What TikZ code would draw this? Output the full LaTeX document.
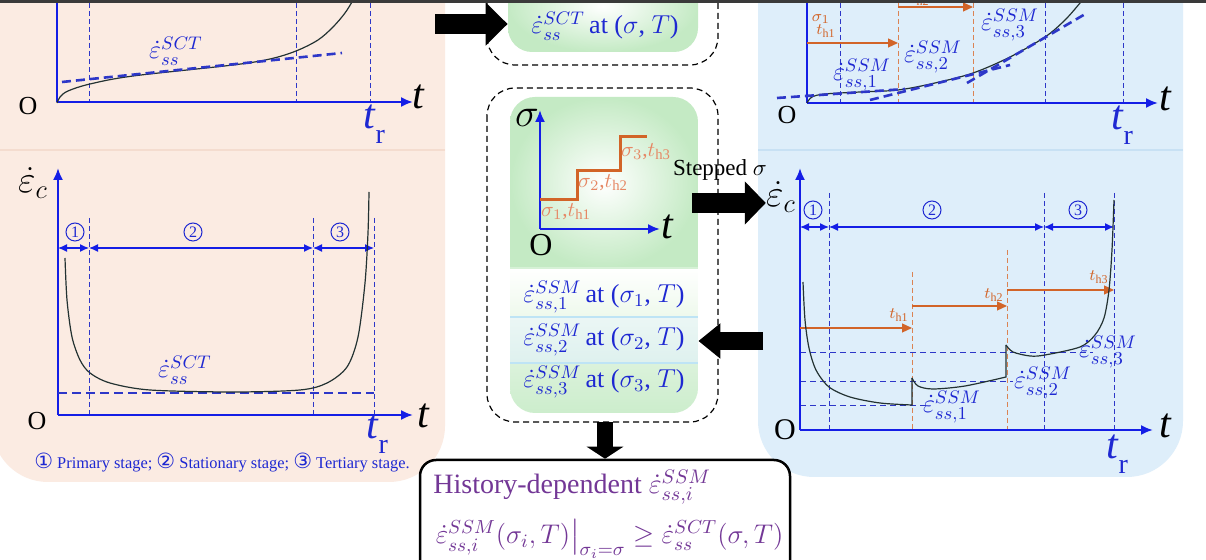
\RequirePackage{fix-cm}
\documentclass[tikz,border=0pt]{standalone}
\usepackage{amsmath}
\usepackage{fontspec}
\setmainfont{Liberation Serif}
\newfontfamily\djv{DejaVu Sans}
\usetikzlibrary{arrows.meta}
\definecolor{peach}{RGB}{251,235,226}
\definecolor{peachsep}{RGB}{244,220,207}
\definecolor{skyb}{RGB}{222,238,250}
\definecolor{skysep}{RGB}{200,225,244}
\definecolor{axb}{RGB}{20,30,230}
\definecolor{lblb}{RGB}{30,40,210}
\definecolor{dashb}{RGB}{45,55,200}
\definecolor{orng}{RGB}{210,100,40}
\definecolor{salm}{RGB}{230,135,100}
\definecolor{purp}{RGB}{115,55,150}
\definecolor{grn}{RGB}{196,234,196}
\definecolor{crvc}{RGB}{35,50,50}
\definecolor{rowa}{RGB}{238,249,236}
\definecolor{rowb}{RGB}{222,241,238}
\definecolor{rowc}{RGB}{204,237,204}
\definecolor{sepb}{RGB}{190,228,245}
\definecolor{topbar}{RGB}{58,58,58}
\newcommand{\epsd}{\dot{\varepsilon}}
\newcommand{\cnum}[1]{{\djv\fontsize{10.5}{10}\selectfont #1}}
\begin{document}
\begin{tikzpicture}[x=0.5pt,y=-0.5pt,
  axline/.style={draw=axb,line width=1pt},
  axarr/.style={draw=axb,line width=1pt,-{Latex[length=6pt,width=5pt]}},
  vdsh/.style={draw=dashb,line width=0.5pt,dash pattern=on 2.5pt off 1.5pt},
  odsh/.style={draw=orng!80,line width=0.5pt,dash pattern=on 2.5pt off 1.5pt},
  tdsh/.style={draw=dashb,line width=1.3pt,dash pattern=on 4.5pt off 2.5pt},
  hdsh/.style={draw=dashb,line width=0.5pt,dash pattern=on 3pt off 2pt},
  crvline/.style={draw=crvc,line width=0.6pt},
  stgarr/.style={draw=axb,line width=0.6pt,{Latex[length=4.5pt,width=4pt]}-{Latex[length=4.5pt,width=4pt]}},
  oarr/.style={draw=orng,line width=0.6pt,-{Triangle[length=5pt,width=4.5pt]}},
  stgc/.style={circle,draw=lblb,line width=0.5pt,inner sep=0pt,minimum size=9pt,text=lblb,font=\fontsize{8}{8}\selectfont},
  lbl/.style={text=lblb,inner sep=0pt,font=\fontsize{13}{15}\selectfont},
  olbl/.style={text=orng,inner sep=0pt,font=\fontsize{8}{9}\selectfont},
  slbl/.style={text=salm,inner sep=0pt,font=\fontsize{10.5}{12}\selectfont},
  tlbl/.style={inner sep=0pt,font=\fontsize{21}{24}\selectfont\itshape},
  trlbl/.style={inner sep=0pt,text=lblb,font=\fontsize{21}{24}\selectfont},
  olet/.style={inner sep=0pt,font=\fontsize{13}{15}\selectfont},
  ecl/.style={inner sep=0pt,font=\fontsize{19}{22}\selectfont},
  dbox/.style={draw=black,line width=0.6pt,dash pattern=on 3pt off 2pt,rounded corners=14pt},
  rowtxt/.style={text=lblb,inner sep=0pt,minimum width=94pt,minimum height=22pt,font=\fontsize{13}{15}\selectfont},
  histtxt/.style={text=purp,inner sep=0pt,anchor=west,font=\fontsize{14}{16}\selectfont}
]
\useasboundingbox (0,0) rectangle (1206,560);
\fill[white] (0,0) rectangle (1206,560);

% ---------- panels
\fill[peach,rounded corners=28pt] (-8,-100) rectangle (445,482);
\draw[peachsep,line width=1.2pt] (0,150) -- (445,150);
\fill[skyb,rounded corners=28pt] (758,-100) rectangle (1183,477);
\draw[skysep,line width=1.2pt] (758,150) -- (1183,150);

% ---------- left top graph
\foreach \xx in {89,296,370} \draw[vdsh] (\xx,-5) -- (\xx,102);
\draw[axline] (57,-10) -- (57,102);
\draw[axarr] (57,102) -- (413,102);
\draw[crvline] plot[smooth,tension=0.55] coordinates {(57,103) (60,97) (68,91) (90,84) (133,76) (233,65) (270,59) (296,51) (318,40) (333,27) (345,13) (353,0) (356,-8)};
\draw[tdsh] (62,82) -- (342,53);
\node[lbl] (ltlab) at (176,51) {$\epsd_{ss}^{SCT}$};
\node[olet] (ltO) at (28,106) {O};
\node[tlbl] (ltt) at (418,97) {t};
\node[trlbl] (lttr) at (374,124) {\textit{t}\raisebox{-0.35em}{\fontsize{14}{14}\selectfont r}};

% ---------- left bottom graph
\foreach \xx in {89,313,374} \draw[vdsh] (\xx,218) -- (\xx,415);
\draw[axarr] (58,415) -- (58,168);
\draw[axarr] (58,415) -- (413,415);
\draw[stgarr] (58,248) -- (89,248);
\draw[stgarr] (89,248) -- (313,248);
\draw[stgarr] (313,248) -- (374,248);
\node[stgc] (lc1) at (75,232) {1};
\node[stgc] (lc2) at (193,232) {2};
\node[stgc] (lc3) at (340,232) {3};
\draw[tdsh] (58,393) -- (374,393);
\draw[crvline] plot[smooth,tension=0.5] coordinates {(65,258) (67,300) (72,337) (80,360) (90,373) (110,383) (150,390) (233,392) (300,390) (327,383) (347,367) (358,337) (365,283) (368,233) (369,192)};
\node[lbl] (lblab) at (185,370) {$\epsd_{ss}^{SCT}$};
\node[ecl] (lbec) at (33,183) {$\epsd_c$};
\node[olet] (lbO) at (37,421) {O};
\node[tlbl] (lbt) at (423,416) {t};
\node[trlbl] (lbtr) at (377,434) {\textit{t}\raisebox{-0.35em}{\fontsize{14}{14}\selectfont r}};
\node[text=lblb,inner sep=0pt,font=\fontsize{8.2}{10}\selectfont] (cap) at (222,463) {\cnum{①} Primary stage; \cnum{②} Stationary stage; \cnum{③} Tertiary stage.};

% ---------- centre top
\draw[dbox] (487,-60) rectangle (718,65);
\node[rounded corners=12pt,inner color=white,outer color=grn,minimum width=95pt,minimum height=46pt,inner sep=0pt] (sct) at (603,6) {};
\node[lbl] (scttxt) at (605,26) {$\epsd_{ss}^{SCT}$\,at ($\sigma$, $T$)};
\coordinate (arrL) at (435,24);
\draw[line width=10pt,-{Triangle[length=11pt,width=21pt]}] (arrL) -- (sct.west |- arrL);

% ---------- centre middle
\draw[dbox] (487,88) rectangle (718,422);
\begin{scope}
  \clip[rounded corners=12.5pt] (510,97) rectangle (698,413);
  \shade[inner color=white,outer color=grn] (510,97) rectangle (698,268);
  \shade[top color=white,bottom color=rowa] (510,268) rectangle (698,317);
  \shade[top color=rowb!60,bottom color=rowb] (510,317) rectangle (698,363);
  \shade[top color=rowc!70,bottom color=rowc] (510,363) rectangle (698,413);
\end{scope}
\draw[rowc!80!white,line width=1.2pt] (510,268) -- (698,268);
\draw[sepb,line width=1.2pt] (510,317) -- (698,317);
\draw[sepb,line width=1.2pt] (510,363) -- (698,363);
\draw[axarr] (540,229) -- (540,110);
\draw[axarr] (540,229) -- (660,229);
\draw[orng,line width=1.5pt] (540,200) -- (577,200) -- (577,171) -- (620,171) -- (620,137) -- (647,137);
\node[slbl] (s1) at (566,212) {$\sigma_1$,$t_{\mathrm{h1}}$};
\node[slbl] (s2) at (603,183) {$\sigma_2$,$t_{\mathrm{h2}}$};
\node[slbl] (s3) at (646,152) {$\sigma_3$,$t_{\mathrm{h3}}$};
\node[inner sep=0pt,font=\fontsize{20}{22}\selectfont] (csig) at (527,118) {$\sigma$};
\node[inner sep=0pt,font=\fontsize{16}{18}\selectfont] (cO) at (541,245) {O};
\node[tlbl] (ct) at (667,227) {t};
\node[rowtxt] (row1) at (604,297) {$\epsd_{ss,1}^{SSM}$\,at ($\sigma_1$, $T$)};
\node[rowtxt] (row2) at (604,340) {$\epsd_{ss,2}^{SSM}$\,at ($\sigma_2$, $T$)};
\node[rowtxt] (row3) at (604,382) {$\epsd_{ss,3}^{SSM}$\,at ($\sigma_3$, $T$)};

% ---------- history box
\node[draw=black,line width=1.25pt,rounded corners=8pt,fill=white,minimum width=185pt,minimum height=70pt,inner sep=0pt] (hist) at (605,530) {};
\node[histtxt] (h1) at (433,487) {History-dependent $\epsd_{ss,i}^{SSM}$};
\node[histtxt,font=\fontsize{13.5}{16}\selectfont] (h2) at (433,539) {$\left.\epsd_{ss,i}^{SSM}(\sigma_i,T)\right|_{\sigma_i=\sigma}\geq\epsd_{ss}^{SCT}(\sigma,T)$};
\coordinate (dbS) at (605,422);
\draw[line width=8pt,-{Triangle[length=6pt,width=18pt]}] (dbS) -- (hist.north);

% ---------- right top graph
\foreach \xx in {840,1045,1123} \draw[vdsh] (\xx,-5) -- (\xx,103);
\foreach \xx in {898,973} \draw[odsh] (\xx,-5) -- (\xx,103);
\draw[axline] (807,-10) -- (807,103);
\draw[axarr] (807,103) -- (1158,103);
\draw[oarr] (807,43) -- (898,43);
\draw[oarr] (898,7) -- (973,7);
\node[olbl] (rs1) at (821,19) {$\sigma_1$};
\node[olbl] (rth1) at (826,31) {$t_{\mathrm{h1}}$};
\node[olbl] (rth2) at (920,-1) {$t_{\mathrm{h2}}$};
\draw[crvline] plot[smooth,tension=0.55] coordinates {(807,103) (812,97) (825,94) (860,92) (898,90) (935,83) (973,73) (1010,57) (1045,37) (1065,20) (1080,3) (1086,-5)};
\draw[tdsh] (777,98) -- (905,89);
\draw[tdsh] (870,100) -- (1010,65);
\draw[tdsh] (967,83) -- (1087,13);
\node[lbl] (rl1) at (862,75) {$\epsd_{ss,1}^{SSM}$};
\node[lbl] (rl2) at (933,57) {$\epsd_{ss,2}^{SSM}$};
\node[lbl] (rl3) at (1010,25) {$\epsd_{ss,3}^{SSM}$};
\node[olet] (rtO) at (787,115) {O};
\node[tlbl] (rtt) at (1165,99) {t};
\node[trlbl] (rttr) at (1122,125) {\textit{t}\raisebox{-0.35em}{\fontsize{14}{14}\selectfont r}};

% ---------- right bottom graph
\foreach \xx in {829,1044,1114} \draw[vdsh] (\xx,193) -- (\xx,430);
\draw[odsh] (912,272) -- (912,430);
\draw[odsh] (1007,250) -- (1007,430);
\draw[hdsh] (800,406) -- (927,406);
\draw[hdsh] (800,382) -- (1013,382);
\draw[hdsh] (800,353) -- (1093,353);
\draw[axarr] (800,430) -- (800,168);
\draw[axarr] (800,430) -- (1153,430);
\draw[stgarr] (800,227) -- (829,227);
\draw[stgarr] (829,227) -- (1044,227);
\draw[stgarr] (1044,227) -- (1114,227);
\node[stgc] (rc1) at (813,210) {1};
\node[stgc] (rc2) at (932,210) {2};
\node[stgc] (rc3) at (1078,210) {3};
\draw[oarr] (800,328) -- (912,328);
\draw[oarr] (912,306) -- (1007,306);
\draw[oarr] (1007,290) -- (1114,290);
\node[olbl] (rbh1) at (899,315) {$t_{\mathrm{h1}}$};
\node[olbl] (rbh2) at (994,295) {$t_{\mathrm{h2}}$};
\node[olbl] (rbh3) at (1099,277) {$t_{\mathrm{h3}}$};
\draw[crvline] plot[smooth,tension=0.5] coordinates {(803,282) (805,320) (809,348) (816,370) (829,387) (850,397) (880,403) (912,405)} -- (912,378);
\draw[crvline] plot[smooth,tension=0.5] coordinates {(912,378) (918,386) (933,389) (965,386) (1006,377)} -- (1006,345);
\draw[crvline] plot[smooth,tension=0.5] coordinates {(1006,345) (1013,352) (1030,356) (1045,355) (1080,347) (1095,335) (1104,318) (1109,290) (1112,250) (1114,200)};
\node[lbl] (rb1) at (952,407) {$\epsd_{ss,1}^{SSM}$};
\node[lbl] (rb2) at (1043,383) {$\epsd_{ss,2}^{SSM}$};
\node[lbl] (rb3) at (1108,352) {$\epsd_{ss,3}^{SSM}$};
\node[ecl] (rbec) at (781,197) {$\epsd_c$};
\node[olet,font=\fontsize{15}{17}\selectfont] (rbO) at (785,430) {O};
\node[tlbl] (rbt) at (1165,426) {t};
\node[trlbl] (rbtr) at (1117,454) {\textit{t}\raisebox{-0.35em}{\fontsize{14}{14}\selectfont r}};

% ---------- block arrows between stages
\node[inner sep=0pt,font=\fontsize{11.5}{13}\selectfont] (stepl) at (720,170) {Stepped $\sigma$};
\coordinate (stepA) at (692,203);
\draw[line width=10pt,-{Triangle[length=10.5pt,width=21pt]}] (stepA) -- (rbec.west |- stepA);
\coordinate (backA) at (763,341);
\draw[line width=9pt,-{Triangle[length=11pt,width=17pt]}] (backA) -- (row2.east |- backA);

% ---------- top bar
\fill[topbar] (0,0) rectangle (1206,3);
\end{tikzpicture}
\end{document}
